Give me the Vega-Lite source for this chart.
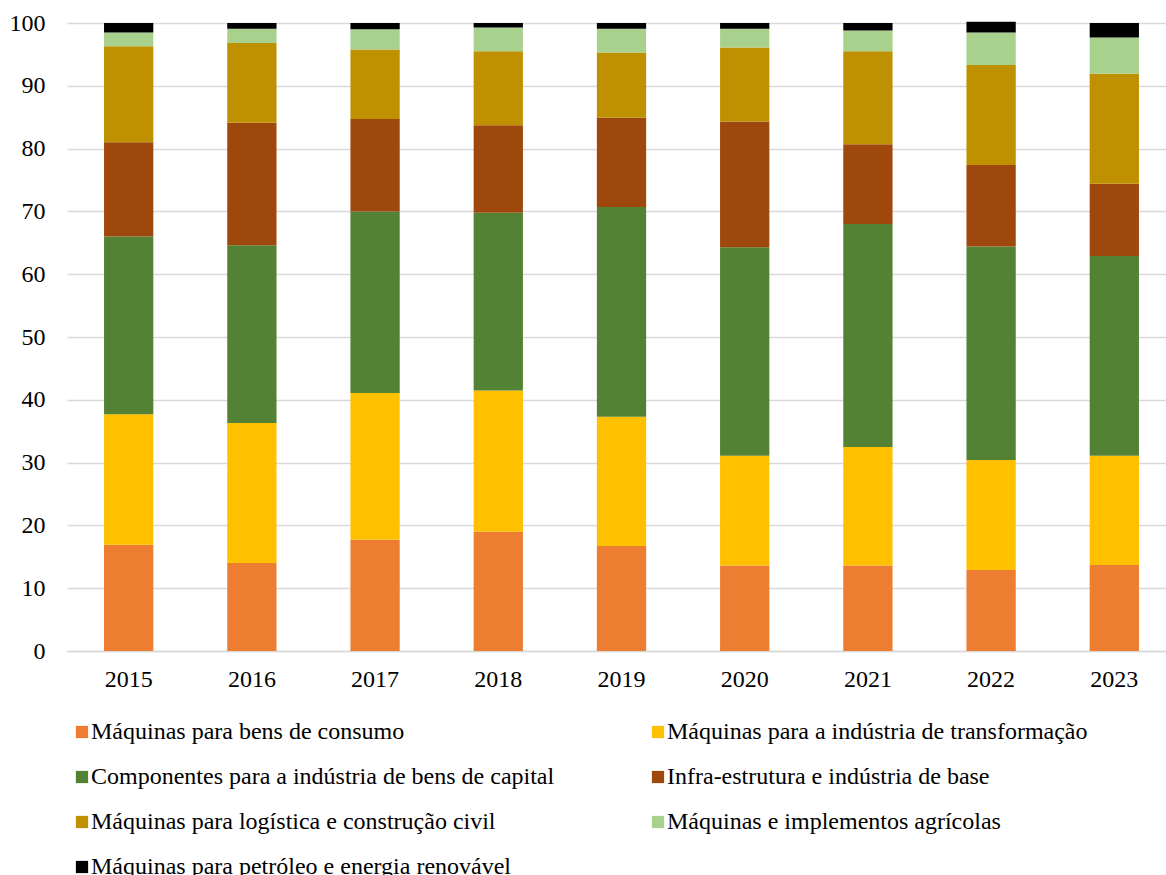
{
  "$schema": "https://vega.github.io/schema/vega-lite/v6.json",
  "width": 1099,
  "height": 628,
  "autosize": {"type": "none"},
  "padding": {"left": 67, "top": 23, "right": 0, "bottom": 224},
  "background": "white",
  "config": {
    "font": "Liberation Serif",
    "view": {"stroke": null},
    "axis": {"labelFont": "Liberation Serif", "labelFontSize": 24, "labelColor": "#000000"},
    "legend": {"labelFont": "Liberation Serif", "labelFontSize": 24, "labelColor": "#000000"}
  },
  "data": {
    "values": [
      {"ano": "2015", "cat": "Máquinas para bens de consumo", "v": 16.9},
      {"ano": "2015", "cat": "Máquinas para a indústria de transformação", "v": 20.8},
      {"ano": "2015", "cat": "Componentes para a indústria de bens de capital", "v": 28.3},
      {"ano": "2015", "cat": "Infra-estrutura e indústria de base", "v": 15.0},
      {"ano": "2015", "cat": "Máquinas para logística e construção civil", "v": 15.3},
      {"ano": "2015", "cat": "Máquinas e implementos agrícolas", "v": 2.2},
      {"ano": "2015", "cat": "Máquinas para petróleo e energia renovável", "v": 1.5},
      {"ano": "2016", "cat": "Máquinas para bens de consumo", "v": 14.0},
      {"ano": "2016", "cat": "Máquinas para a indústria de transformação", "v": 22.3},
      {"ano": "2016", "cat": "Componentes para a indústria de bens de capital", "v": 28.3},
      {"ano": "2016", "cat": "Infra-estrutura e indústria de base", "v": 19.5},
      {"ano": "2016", "cat": "Máquinas para logística e construção civil", "v": 12.7},
      {"ano": "2016", "cat": "Máquinas e implementos agrícolas", "v": 2.3},
      {"ano": "2016", "cat": "Máquinas para petróleo e energia renovável", "v": 0.9},
      {"ano": "2017", "cat": "Máquinas para bens de consumo", "v": 17.7},
      {"ano": "2017", "cat": "Máquinas para a indústria de transformação", "v": 23.4},
      {"ano": "2017", "cat": "Componentes para a indústria de bens de capital", "v": 28.9},
      {"ano": "2017", "cat": "Infra-estrutura e indústria de base", "v": 14.7},
      {"ano": "2017", "cat": "Máquinas para logística e construção civil", "v": 11.1},
      {"ano": "2017", "cat": "Máquinas e implementos agrícolas", "v": 3.2},
      {"ano": "2017", "cat": "Máquinas para petróleo e energia renovável", "v": 1.0},
      {"ano": "2018", "cat": "Máquinas para bens de consumo", "v": 19.0},
      {"ano": "2018", "cat": "Máquinas para a indústria de transformação", "v": 22.5},
      {"ano": "2018", "cat": "Componentes para a indústria de bens de capital", "v": 28.3},
      {"ano": "2018", "cat": "Infra-estrutura e indústria de base", "v": 13.9},
      {"ano": "2018", "cat": "Máquinas para logística e construção civil", "v": 11.8},
      {"ano": "2018", "cat": "Máquinas e implementos agrícolas", "v": 3.8},
      {"ano": "2018", "cat": "Máquinas para petróleo e energia renovável", "v": 0.7},
      {"ano": "2019", "cat": "Máquinas para bens de consumo", "v": 16.7},
      {"ano": "2019", "cat": "Máquinas para a indústria de transformação", "v": 20.6},
      {"ano": "2019", "cat": "Componentes para a indústria de bens de capital", "v": 33.4},
      {"ano": "2019", "cat": "Infra-estrutura e indústria de base", "v": 14.2},
      {"ano": "2019", "cat": "Máquinas para logística e construção civil", "v": 10.4},
      {"ano": "2019", "cat": "Máquinas e implementos agrícolas", "v": 3.8},
      {"ano": "2019", "cat": "Máquinas para petróleo e energia renovável", "v": 0.9},
      {"ano": "2020", "cat": "Máquinas para bens de consumo", "v": 13.6},
      {"ano": "2020", "cat": "Máquinas para a indústria de transformação", "v": 17.5},
      {"ano": "2020", "cat": "Componentes para a indústria de bens de capital", "v": 33.2},
      {"ano": "2020", "cat": "Infra-estrutura e indústria de base", "v": 20.0},
      {"ano": "2020", "cat": "Máquinas para logística e construção civil", "v": 11.8},
      {"ano": "2020", "cat": "Máquinas e implementos agrícolas", "v": 3.0},
      {"ano": "2020", "cat": "Máquinas para petróleo e energia renovável", "v": 0.9},
      {"ano": "2021", "cat": "Máquinas para bens de consumo", "v": 13.6},
      {"ano": "2021", "cat": "Máquinas para a indústria de transformação", "v": 18.9},
      {"ano": "2021", "cat": "Componentes para a indústria de bens de capital", "v": 35.5},
      {"ano": "2021", "cat": "Infra-estrutura e indústria de base", "v": 12.7},
      {"ano": "2021", "cat": "Máquinas para logística e construção civil", "v": 14.8},
      {"ano": "2021", "cat": "Máquinas e implementos agrícolas", "v": 3.3},
      {"ano": "2021", "cat": "Máquinas para petróleo e energia renovável", "v": 1.2},
      {"ano": "2022", "cat": "Máquinas para bens de consumo", "v": 12.9},
      {"ano": "2022", "cat": "Máquinas para a indústria de transformação", "v": 17.5},
      {"ano": "2022", "cat": "Componentes para a indústria de bens de capital", "v": 34.0},
      {"ano": "2022", "cat": "Infra-estrutura e indústria de base", "v": 13.0},
      {"ano": "2022", "cat": "Máquinas para logística e construção civil", "v": 15.9},
      {"ano": "2022", "cat": "Máquinas e implementos agrícolas", "v": 5.2},
      {"ano": "2022", "cat": "Máquinas para petróleo e energia renovável", "v": 1.7},
      {"ano": "2023", "cat": "Máquinas para bens de consumo", "v": 13.7},
      {"ano": "2023", "cat": "Máquinas para a indústria de transformação", "v": 17.4},
      {"ano": "2023", "cat": "Componentes para a indústria de bens de capital", "v": 31.8},
      {"ano": "2023", "cat": "Infra-estrutura e indústria de base", "v": 11.5},
      {"ano": "2023", "cat": "Máquinas para logística e construção civil", "v": 17.5},
      {"ano": "2023", "cat": "Máquinas e implementos agrícolas", "v": 5.8},
      {"ano": "2023", "cat": "Máquinas para petróleo e energia renovável", "v": 2.3}
    ]
  },
  "transform": [
    {"calculate": "indexof(['Máquinas para bens de consumo','Máquinas para a indústria de transformação','Componentes para a indústria de bens de capital','Infra-estrutura e indústria de base','Máquinas para logística e construção civil','Máquinas e implementos agrícolas','Máquinas para petróleo e energia renovável'], datum.cat)", "as": "ordem"}
  ],
  "mark": {"type": "bar", "clip": false},
  "encoding": {
    "x": {
      "field": "ano",
      "type": "ordinal",
      "scale": {"paddingInner": 0.6, "paddingOuter": 0.26, "align": 0.578},
      "axis": {
        "title": null,
        "labelAngle": 0,
        "ticks": false,
        "domain": true,
        "domainColor": "#D9D9D9",
        "domainWidth": 1.5,
        "grid": false,
        "labelPadding": 16
      }
    },
    "y": {
      "field": "v",
      "type": "quantitative",
      "stack": "zero",
      "scale": {"domain": [0, 100], "nice": false, "zero": true},
      "axis": {
        "title": null,
        "values": [0, 10, 20, 30, 40, 50, 60, 70, 80, 90, 100],
        "ticks": false,
        "domain": false,
        "grid": true,
        "gridColor": "#D9D9D9",
        "gridWidth": 1.5,
        "labelPadding": 22
      }
    },
    "order": {"field": "ordem", "type": "quantitative", "sort": "ascending"},
    "color": {
      "field": "cat",
      "type": "nominal",
      "scale": {
        "domain": [
          "Máquinas para bens de consumo",
          "Máquinas para a indústria de transformação",
          "Componentes para a indústria de bens de capital",
          "Infra-estrutura e indústria de base",
          "Máquinas para logística e construção civil",
          "Máquinas e implementos agrícolas",
          "Máquinas para petróleo e energia renovável"
        ],
        "range": ["#ED7D31", "#FFC000", "#548235", "#9E480E", "#BF9000", "#A9D18E", "#000000"]
      },
      "legend": {
        "title": null,
        "orient": "none",
        "legendX": 3,
        "legendY": 697,
        "direction": "horizontal",
        "columns": 2,
        "symbolType": "square",
        "symbolSize": 150,
        "symbolStrokeWidth": 0,
        "labelOffset": -3,
        "columnPadding": 91,
        "rowPadding": 21,
        "labelLimit": 600
      }
    }
  }
}
